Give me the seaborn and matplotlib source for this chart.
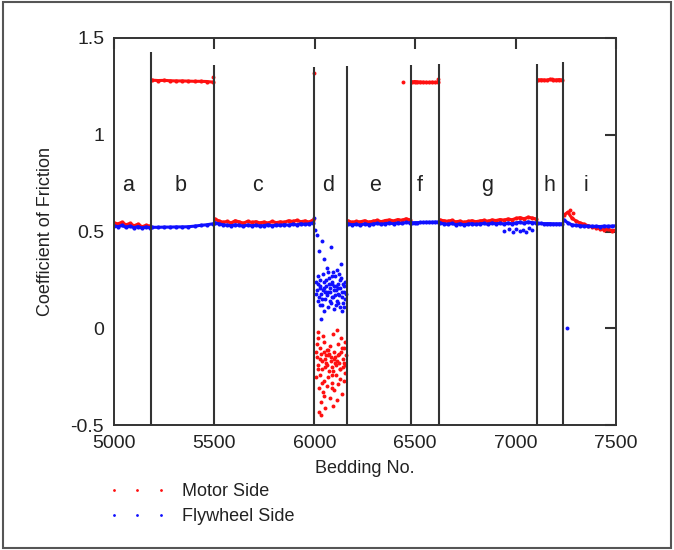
import numpy as np
import pandas as pd
import seaborn as sns
import matplotlib.pyplot as plt
from matplotlib.lines import Line2D
from matplotlib.patches import Rectangle

# section letters, their label positions and the section borders (bedding no.)
sections = ['a', 'b', 'c', 'd', 'e', 'f', 'g', 'h', 'i']
label_x = [5070, 5334, 5717, 6066, 6300, 6524, 6857, 7166, 7350]
bounds = [5184, 5498, 5996, 6160, 6479, 6618, 7106, 7236]
bound_tops = [1.43, 1.36, 1.35, 1.356, 1.36, 1.365, 1.366, 1.376]

# bedding range of each section's readings
seg_range = {'a': (5000, 5180), 'b': (5190, 5492), 'c': (5502, 5992),
             'e': (6165, 6475), 'f': (6482, 6614), 'g': (6622, 7102),
             'h': (7110, 7232), 'i': (7240, 7500)}

motor = {
    'a': [0.545, 0.540, 0.548, 0.535, 0.542, 0.530, 0.538, 0.525, 0.532, 0.528],
    'b': [1.282, 1.280, 1.281, 1.279, 1.278, 1.278, 1.277, 1.276, 1.276, 1.275, 1.272],
    'c': [0.565, 0.555, 0.548, 0.552, 0.545, 0.556, 0.550, 0.543, 0.553, 0.547, 0.551, 0.545, 0.549,
          0.544, 0.552, 0.546, 0.550, 0.548, 0.556, 0.552, 0.558, 0.551, 0.555, 0.549, 0.560],
    'e': [0.555, 0.548, 0.552, 0.550, 0.556, 0.549, 0.553, 0.558, 0.551, 0.557, 0.560, 0.555, 0.562,
          0.558, 0.566, 0.560],
    'f': [1.272, 1.275, 1.273, 1.272, 1.271, 1.270, 1.270, 1.271, 1.270, 1.272],
    'g': [0.560, 0.556, 0.553, 0.558, 0.550, 0.554, 0.548, 0.552, 0.556, 0.551, 0.555, 0.558, 0.553,
          0.560, 0.557, 0.562, 0.559, 0.565, 0.561, 0.568, 0.572, 0.566, 0.574, 0.570, 0.565],
    'h': [1.283, 1.284, 1.283, 1.282, 1.286, 1.283, 1.283, 1.285, 1.283],
    'i': [0.585, 0.600, 0.570, 0.555, 0.545, 0.538, 0.530, 0.525, 0.520, 0.515, 0.510, 0.512,
          0.505, 0.508],
}
flywheel = {
    'a': [0.530, 0.525, 0.532, 0.522, 0.528, 0.520, 0.526, 0.518, 0.524, 0.520],
    'b': [0.522, 0.522, 0.523, 0.523, 0.524, 0.524, 0.525, 0.528, 0.532, 0.535, 0.540],
    'c': [0.545, 0.540, 0.535, 0.533, 0.530, 0.535, 0.532, 0.528, 0.534, 0.530, 0.533, 0.529, 0.531,
          0.535, 0.530, 0.534, 0.532, 0.536, 0.533, 0.538, 0.535, 0.540, 0.537, 0.540, 0.545],
    'e': [0.540, 0.535, 0.538, 0.533, 0.540, 0.536, 0.539, 0.542, 0.538, 0.541, 0.544, 0.540, 0.545,
          0.542, 0.547, 0.545],
    'f': [0.545, 0.546, 0.546, 0.547, 0.547, 0.548, 0.548, 0.548, 0.549, 0.549],
    'g': [0.545, 0.540, 0.538, 0.542, 0.536, 0.540, 0.535, 0.538, 0.541, 0.537, 0.540, 0.542, 0.538,
          0.544, 0.540, 0.543, 0.539, 0.544, 0.540, 0.545, 0.548, 0.543, 0.550, 0.546, 0.545],
    'h': [0.542, 0.542, 0.541, 0.541, 0.541, 0.540, 0.540, 0.540, 0.540],
    'i': [0.560, 0.545, 0.535, 0.532, 0.530, 0.528, 0.528, 0.527, 0.527, 0.526, 0.528, 0.527,
          0.528, 0.530],
}

# section d (and a few stray readings) is scattered
motor_pts_x = [6015, 6040, 6090, 6130, 6110, 6010, 6025, 6045, 6060, 6075, 6095, 6115, 6135, 6150,
               6012, 6030, 6050, 6065, 6080, 6100, 6120, 6140, 6155, 6018, 6035, 6055, 6070, 6088,
               6105, 6125, 6145, 6008, 6028, 6048, 6068, 6085, 6108, 6128, 6150, 6022, 6042, 6062,
               6098, 6118, 6138, 6032, 6078, 6110, 6052, 6020, 6030, 6090,
               6006, 6038, 6072, 6102, 6132, 6152, 6014, 6044, 6082, 6112, 6142, 6024, 6058, 6092,
               6122, 6148, 6016, 6050, 6084, 6116, 6144, 6036, 6066, 6096, 6126, 6046, 6086, 6060,
               5495, 5996, 6440, 6612, 7180, 7270, 7285]
motor_pts_y = [-0.02, -0.04, -0.03, -0.05, -0.01, -0.08, -0.10, -0.07, -0.11, -0.09, -0.12, -0.08,
               -0.10, -0.07, -0.15, -0.13, -0.16, -0.14, -0.17, -0.15, -0.13, -0.16, -0.14, -0.19,
               -0.21, -0.18, -0.22, -0.20, -0.19, -0.21, -0.18, -0.25, -0.24, -0.27, -0.25, -0.28,
               -0.24, -0.26, -0.23, -0.31, -0.33, -0.30, -0.32, -0.29, -0.34, -0.38, -0.36, -0.37,
               -0.41, -0.43, -0.45, -0.40,
               -0.12, -0.17, -0.13, -0.18, -0.12, -0.19, -0.21, -0.12, -0.15, -0.17, -0.20,
               -0.16, -0.14, -0.22, -0.18, -0.10, -0.05, -0.20, -0.24, -0.14, -0.27, -0.28,
               -0.11, -0.16, -0.21, -0.35, -0.31, -0.19,
               1.300, 1.320, 1.270, 1.290, 1.290, 0.610, 0.595]
fly_pts_x = [6010, 6035, 6020, 6045, 6080, 6110, 6130, 6060, 6015, 6025, 6040, 6055, 6070, 6085,
             6100, 6115, 6130, 6145, 6012, 6030, 6048, 6062, 6078, 6092, 6108, 6122, 6138, 6150,
             6018, 6036, 6052, 6068, 6082, 6098, 6112, 6128, 6142, 6008, 6028, 6044, 6074, 6090,
             6104, 6120, 6136, 6152, 6022, 6058, 6088, 6118, 6148, 6032, 6065, 6095, 6125,
             6006, 6026, 6046, 6066, 6086, 6106, 6126, 6146, 6016, 6038, 6056, 6076, 6096,
             6116, 6134, 6154, 6024, 6050, 6084, 6114, 6140, 6042, 6072, 6102,
             6940, 6965, 6985, 7000, 7020, 7035, 7050, 7065, 7080, 5996, 6000, 7258]
fly_pts_y = [0.48, 0.45, 0.40, 0.36, 0.42, 0.30, 0.33, 0.31, 0.27, 0.25, 0.28, 0.22, 0.26, 0.24,
             0.27, 0.23, 0.26, 0.22, 0.20, 0.18, 0.21, 0.17, 0.19, 0.16, 0.20, 0.17, 0.19, 0.15,
             0.14, 0.12, 0.15, 0.11, 0.13, 0.10, 0.14, 0.11, 0.13, 0.24, 0.22, 0.09, 0.21, 0.29,
             0.12, 0.28, 0.09, 0.24, 0.16, 0.19, 0.23, 0.18, 0.11, 0.05, 0.29, 0.20, 0.21,
             0.18, 0.21, 0.24, 0.19, 0.16, 0.22, 0.25, 0.19, 0.23, 0.15, 0.25, 0.14, 0.22,
             0.21, 0.16, 0.18, 0.12, 0.19, 0.27, 0.13, 0.23, 0.20, 0.23, 0.17,
             0.505, 0.512, 0.498, 0.515, 0.505, 0.510, 0.500, 0.518, 0.508, 0.57, 0.51, 0.0]

red = '#ff1010'
blue = '#1010ff'


def band_frame(values, side):
    rows = []
    for seg, ys in values.items():
        lo, hi = seg_range[seg]
        for xv, yv in zip(np.linspace(lo, hi, len(ys)), ys):
            rows.append((xv, yv, seg, side))
    return pd.DataFrame(rows, columns=['bedding', 'cof', 'seg', 'side'])


df = pd.concat([band_frame(motor, 'Motor Side'), band_frame(flywheel, 'Flywheel Side')])

sns.set_style('white')
plt.rcParams['font.family'] = ['Liberation Sans', 'DejaVu Sans']

fig = plt.figure(figsize=(6.74, 5.5), dpi=100)
ax = fig.add_axes([0.169, 0.227, 0.745, 0.704])

for side, col in [('Motor Side', red), ('Flywheel Side', blue)]:
    sns.lineplot(data=df[df.side == side], x='bedding', y='cof', units='seg', estimator=None,
                 sort=False, color=col, lw=2.2, marker='o', markersize=3, mec='none', ax=ax)
sns.scatterplot(x=motor_pts_x, y=motor_pts_y, color=red, s=8, linewidth=0, ax=ax)
sns.scatterplot(x=fly_pts_x, y=fly_pts_y, color=blue, s=8, linewidth=0, ax=ax)

ax.vlines(bounds, -0.5, bound_tops, colors='#333333', lw=1.5, zorder=5)
for lab, xv in zip(sections, label_x):
    ax.text(xv, 0.74, lab, ha='center', va='center', fontsize=15.5, color='#222222')

ax.set_xlim(5000, 7500)
ax.set_ylim(-0.5, 1.5)
ax.set_xticks([5000, 5500, 6000, 6500, 7000, 7500])
ax.set_yticks([-0.5, 0, 0.5, 1, 1.5])
ax.set_yticklabels(['-0.5', '0', '0.5', '1', '1.5'])
ax.tick_params(direction='in', length=8, width=1.5, top=True, right=True,
               labelsize=14, colors='#333333', labelcolor='#222222', pad=7)
for sp in ax.spines.values():
    sp.set_color('#333333')
    sp.set_linewidth(1.4)
ax.set_xlabel('Bedding No.', fontsize=13, color='#222222', labelpad=6)
ax.set_ylabel('Coefficient of Friction', fontsize=13, color='#222222', labelpad=12)

handles = [Line2D([], [], ls='none', marker='.', markersize=2, color=red),
           Line2D([], [], ls='none', marker='.', markersize=2, color=blue)]
fig.legend(handles, ['Motor Side', 'Flywheel Side'], loc='upper left',
           bbox_to_anchor=(0.15, 0.135), frameon=False, fontsize=13, numpoints=3,
           handlelength=3.2, handletextpad=0.9, labelspacing=0.45, borderaxespad=0,
           labelcolor='#222222')

fig.patches.append(Rectangle((0.004, 0.004), 0.992, 0.992, transform=fig.transFigure,
                             fill=False, edgecolor='#555555', lw=1.5))

fig.savefig('out.png', dpi=100)
